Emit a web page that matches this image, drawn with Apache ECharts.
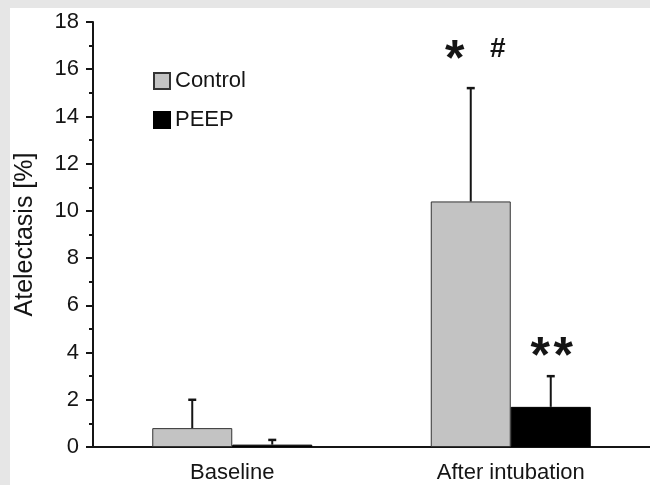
<!DOCTYPE html>
<html>
<head>
<meta charset="utf-8">
<script src="https://cdn.jsdelivr.net/npm/echarts@6/dist/echarts.min.js"></script>
<style>
  html, body { margin: 0; padding: 0; }
  #chart { width: 650px; height: 485px; }
</style>
</head>
<body>
<div id="chart"></div>
<script>
// data
const categories = ['Baseline', 'After intubation'];
const controlMean = [0.8, 10.4];
const controlTop = [2.0, 15.2];   // upper end of error bar
const peepMean = [0.1, 1.7];
const peepTop = [0.3, 3.0];
// significance marks and the height they sit at
const controlMarks = ['', '*#'];
const controlMarkY = [null, 16.9];
const peepMarks = ['', '**'];
const peepMarkY = [null, 4.3];

const FONT = "'Liberation Sans', Arial, sans-serif";
const INK = '#151515';
const BAR_W = 80;

const chart = echarts.init(document.getElementById('chart'));

// error bar: vertical line from bar top + small cap
function errorItem(side) {
  return function (params, api) {
    const off = side * BAR_W / 2;
    const p0 = api.coord([api.value(0), api.value(1)]);
    const p1 = api.coord([api.value(0), api.value(2)]);
    const x = p0[0] + off;
    return {
      type: 'group',
      children: [
        { type: 'line', shape: { x1: x, y1: p0[1], x2: x, y2: p1[1] }, style: { stroke: INK, lineWidth: 2 } },
        { type: 'line', shape: { x1: x - 4, y1: p1[1], x2: x + 4, y2: p1[1] }, style: { stroke: INK, lineWidth: 2.5 } }
      ]
    };
  };
}

// star / hash marks laid out side by side, roughly centred over the bar
function markItem(side, marks) {
  return function (params, api) {
    const txt = marks[params.dataIndex];
    if (!txt) return null;
    const p = api.coord([api.value(0), api.value(1)]);
    const cx = p[0] + side * BAR_W / 2;
    const parts = txt.split('').map(function (c, k) {
      return c === '*' ? { c: c, w: 23, gap: 0 } : { c: c, w: 17, gap: k > 0 ? 23 : 0 };
    });
    let total = 0;
    parts.forEach(function (q) { total += q.w + q.gap; });
    let x = cx - total / 2 + (txt.indexOf('#') >= 0 ? 4 : 1);
    const children = [];
    parts.forEach(function (q) {
      x += q.gap;
      const star = q.c === '*';
      children.push({
        type: 'text',
        x: x + q.w / 2,
        y: star ? p[1] + 13 : p[1] + 1,
        style: {
          text: q.c,
          align: 'center',
          verticalAlign: 'middle',
          fontSize: star ? 50 : 28,
          fontWeight: 'bold',
          fontFamily: FONT,
          fill: INK
        }
      });
      x += q.w;
    });
    return { type: 'group', children: children };
  };
}

chart.setOption({
  backgroundColor: '#e6e6e6',
  animation: false,
  graphic: [{
    type: 'rect', left: 10, top: 8, z: -10,
    shape: { width: 640, height: 477 },
    style: { fill: '#ffffff' }
  }],
  grid: { left: 93, right: 0, top: 22, bottom: 38 },
  legend: {
    orient: 'vertical', left: 153, top: 70, padding: 0,
    itemWidth: 16, itemHeight: 16, itemGap: 17, icon: 'rect',
    textStyle: { fontSize: 22, color: INK, fontFamily: FONT },
    data: ['Control', 'PEEP']
  },
  xAxis: {
    type: 'category',
    data: categories,
    axisLine: { lineStyle: { color: INK, width: 2 } },
    axisTick: { show: false },
    axisLabel: { fontSize: 22, color: INK, fontFamily: FONT, margin: 15 }
  },
  yAxis: {
    type: 'value',
    min: 0, max: 18, interval: 2,
    name: 'Atelectasis [%]',
    nameLocation: 'middle', nameGap: 55,
    nameTextStyle: { fontSize: 25, color: INK, fontFamily: FONT },
    axisLine: { show: true, lineStyle: { color: INK, width: 2 } },
    axisTick: { show: true, length: 7, lineStyle: { color: INK, width: 2 } },
    minorTick: { show: true, splitNumber: 2, length: 4, lineStyle: { color: INK, width: 2 } },
    splitLine: { show: false },
    axisLabel: { fontSize: 22, color: INK, fontFamily: FONT, margin: 14 }
  },
  series: [
    {
      name: 'Control', type: 'bar', data: controlMean,
      barWidth: BAR_W, barGap: '0%',
      itemStyle: { color: '#c3c3c3', borderColor: '#333', borderWidth: 1 }
    },
    {
      name: 'PEEP', type: 'bar', data: peepMean,
      barWidth: BAR_W, barGap: '0%',
      itemStyle: { color: '#000000', borderColor: '#000', borderWidth: 1 }
    },
    {
      type: 'custom', z: 5, silent: true,
      renderItem: errorItem(-1),
      data: categories.map(function (c, i) { return [i, controlMean[i], controlTop[i]]; })
    },
    {
      type: 'custom', z: 5, silent: true,
      renderItem: errorItem(1),
      data: categories.map(function (c, i) { return [i, peepMean[i], peepTop[i]]; })
    },
    {
      type: 'custom', z: 5, silent: true,
      renderItem: markItem(-1, controlMarks),
      data: categories.map(function (c, i) { return [i, controlMarkY[i] == null ? 0 : controlMarkY[i]]; })
    },
    {
      type: 'custom', z: 5, silent: true,
      renderItem: markItem(1, peepMarks),
      data: categories.map(function (c, i) { return [i, peepMarkY[i] == null ? 0 : peepMarkY[i]]; })
    }
  ]
});
</script>
</body>
</html>
